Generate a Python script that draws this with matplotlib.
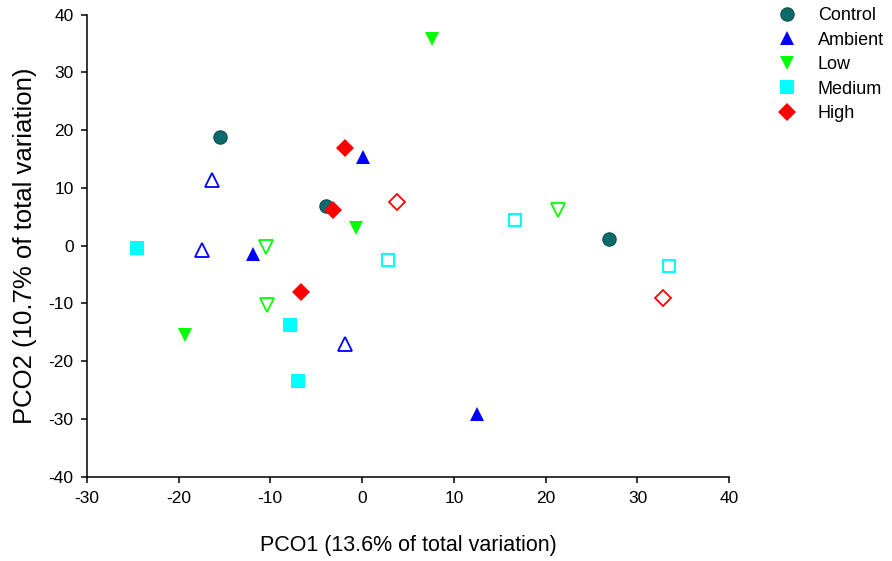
import matplotlib
matplotlib.use("Agg")
import matplotlib.pyplot as plt

plt.rcParams['font.family'] = ['Liberation Sans', 'DejaVu Sans']
plt.rcParams['axes.unicode_minus'] = False

# PCO scores (filled = one set of samples, open = the other)
control_x = [-15.5, -3.9, 26.9]
control_y = [18.75, 6.9, 1.2]

ambient_x = [0.1, -11.9, 12.5]
ambient_y = [15.4, -1.4, -29.1]
ambient_open_x = [-16.4, -17.4, -1.9]
ambient_open_y = [11.4, -0.7, -17.0]

low_x = [7.6, -0.7, -19.25]
low_y = [35.8, 3.0, -15.4]
low_open_x = [-10.5, -10.4, 21.3]
low_open_y = [-0.3, -10.3, 6.2]

medium_x = [-24.55, -7.85, -7.0]
medium_y = [-0.4, -13.7, -23.4]
medium_open_x = [2.8, 16.7, 33.4]
medium_open_y = [-2.5, 4.4, -3.6]

high_x = [-1.9, -3.2, -6.65]
high_y = [16.85, 6.1, -8.1]
high_open_x = [3.8, 32.75]
high_open_y = [7.5, -9.05]

xticks = [-30, -20, -10, 0, 10, 20, 30, 40]
yticks = [-40, -30, -20, -10, 0, 10, 20, 30, 40]

fig = plt.figure(figsize=(8.92, 5.61), dpi=100)
ax = fig.add_axes([0.0972, 0.1503, 0.7204, 0.8235])

teal = '#0e6b6b'
blue = '#0000ff'
green = '#00ff00'
cyan = '#00ffff'
red = '#ff0000'

ax.plot(control_x, control_y, 'o', ms=9.6, mfc=teal, mec='#0a4f4f', mew=0.8,
        ls='none', label='Control')
ax.plot(ambient_x, ambient_y, '^', ms=10, color=blue, mew=0, ls='none', label='Ambient')
ax.plot(ambient_open_x, ambient_open_y, '^', ms=9.5, mfc='none', mec=blue, mew=1.3, ls='none')
ax.plot(low_x, low_y, 'v', ms=10, color=green, mew=0, ls='none', label='Low')
ax.plot(low_open_x, low_open_y, 'v', ms=9.5, mfc='none', mec=green, mew=1.3, ls='none')
ax.plot(medium_x, medium_y, 's', ms=9.5, color=cyan, mew=0, ls='none', label='Medium')
ax.plot(medium_open_x, medium_open_y, 's', ms=8.5, mfc='none', mec=cyan, mew=1.5, ls='none')
ax.plot(high_x, high_y, 'D', ms=8.8, color=red, mew=0, ls='none', label='High')
ax.plot(high_open_x, high_open_y, 'D', ms=8.2, mfc='none', mec=red, mew=1.3, ls='none')

ax.set_xlim(-30, 40)
ax.set_ylim(-40, 40)
ax.set_xticks(xticks)
ax.set_yticks(yticks)
ax.spines['top'].set_visible(False)
ax.spines['right'].set_visible(False)
for s in ['left', 'bottom']:
    ax.spines[s].set_linewidth(1.1)
ax.tick_params(direction='out', length=4.5, width=1.1, labelsize=12.5)
ax.tick_params(axis='x', pad=6)
ax.tick_params(axis='y', pad=5)

ax.set_xlabel('PCO1 (13.6% of total variation)', fontsize=15.5, labelpad=21)
ax.set_ylabel('PCO2 (10.7% of total variation)', fontsize=18.5, labelpad=8)

fig.legend(loc='upper left', bbox_to_anchor=(0.866, 0.987), frameon=False,
           fontsize=13, handlelength=1.6, handletextpad=0.92, labelspacing=0.41,
           borderpad=0, borderaxespad=0)

fig.savefig('out.png', dpi=100)
